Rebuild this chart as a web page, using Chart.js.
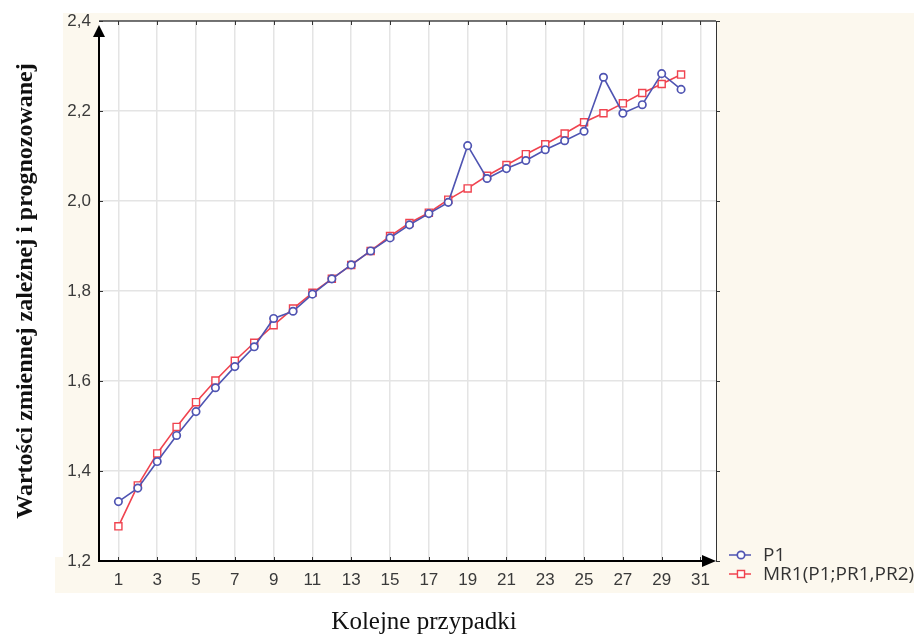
<!DOCTYPE html>
<html>
<head>
<meta charset="utf-8">
<script src="https://cdn.jsdelivr.net/npm/chart.js@4/dist/chart.umd.min.js"></script>
<style>
html,body{margin:0;padding:0;background:#ffffff;}
#wrap{width:914px;height:636px;}
</style>
</head>
<body>
<div id="wrap"><canvas id="c" width="914" height="636"></canvas></div>
<script>
// ---- data ----
const cases = [1,2,3,4,5,6,7,8,9,10,11,12,13,14,15,16,17,18,19,20,21,22,23,24,25,26,27,28,29,30];
const seriesP1 = [1.332,1.362,1.421,1.479,1.532,1.585,1.632,1.676,1.739,1.755,1.793,1.827,1.858,1.889,1.918,1.947,1.972,1.997,2.123,2.050,2.072,2.090,2.114,2.134,2.155,2.275,2.195,2.214,2.283,2.248];
const seriesMR1 = [1.277,1.368,1.439,1.498,1.553,1.601,1.645,1.685,1.724,1.761,1.796,1.827,1.858,1.889,1.922,1.951,1.974,2.003,2.028,2.056,2.080,2.104,2.126,2.150,2.175,2.195,2.217,2.240,2.260,2.281];
const xTickValues = [1,3,5,7,9,11,13,15,17,19,21,23,25,27,29,31];
const yTickValues = [1.2,1.4,1.6,1.8,2.0,2.2,2.4];
const seriesNames = ['P1','MR1(P1;PR1,PR2)'];
const xTitle = 'Kolejne przypadki';
const yTitle = 'Wartości zmiennej zależnej i prognozowanej';

const BLUE = '#4f54b2';
const RED = '#f0434f';
const CREAM = '#fcf8ee';

const decorPlugin = {
  id: 'decor',
  beforeDraw(chart) {
    const ctx = chart.ctx, a = chart.chartArea;
    ctx.save();
    ctx.fillStyle = '#ffffff';
    ctx.fillRect(0, 0, chart.width, chart.height);
    ctx.fillStyle = CREAM;
    ctx.fillRect(63, 13, chart.width - 63, 580);
    ctx.fillRect(55, a.bottom - 4, 10, 36);
    ctx.fillStyle = '#ffffff';
    ctx.fillRect(a.left, a.top, a.right - a.left, a.bottom - a.top);
    ctx.restore();
  },
  beforeDatasetsDraw(chart) {
    const ctx = chart.ctx, a = chart.chartArea;
    const xs = chart.scales.x, ys = chart.scales.y;
    ctx.save();
    ctx.strokeStyle = '#4a4a4a'; ctx.lineWidth = 1.5;
    ctx.beginPath(); ctx.moveTo(a.left, a.top); ctx.lineTo(a.right, a.top); ctx.stroke();
    ctx.strokeStyle = '#333'; ctx.lineWidth = 1;
    ctx.beginPath(); ctx.moveTo(a.right + 0.5, a.top); ctx.lineTo(a.right + 0.5, a.bottom); ctx.stroke();
    ctx.strokeStyle = '#333'; ctx.lineWidth = 1;
    xTickValues.forEach(v => {
      const px = Math.round(xs.getPixelForValue(v)) + 0.5;
      ctx.beginPath(); ctx.moveTo(px, a.top); ctx.lineTo(px, a.top + 4); ctx.stroke();
      ctx.beginPath(); ctx.moveTo(px, a.bottom); ctx.lineTo(px, a.bottom - 4); ctx.stroke();
    });
    yTickValues.forEach(v => {
      const py = Math.round(ys.getPixelForValue(v)) + 0.5;
      ctx.beginPath(); ctx.moveTo(a.left, py); ctx.lineTo(a.left + 4, py); ctx.stroke();
      ctx.beginPath(); ctx.moveTo(a.right, py); ctx.lineTo(a.right + 4, py); ctx.stroke();
    });
    ctx.strokeStyle = '#000'; ctx.fillStyle = '#000'; ctx.lineWidth = 2;
    ctx.beginPath(); ctx.moveTo(a.left, a.bottom + 1); ctx.lineTo(a.left, a.top + 8); ctx.stroke();
    ctx.beginPath(); ctx.moveTo(a.left, a.top + 4); ctx.lineTo(a.left - 6, a.top + 16); ctx.lineTo(a.left + 6, a.top + 16); ctx.closePath(); ctx.fill();
    ctx.beginPath(); ctx.moveTo(a.left - 1, a.bottom); ctx.lineTo(a.right - 8, a.bottom); ctx.stroke();
    ctx.beginPath(); ctx.moveTo(a.right, a.bottom); ctx.lineTo(a.right - 14, a.bottom - 6); ctx.lineTo(a.right - 14, a.bottom + 6); ctx.closePath(); ctx.fill();
    ctx.restore();
  },
  afterDraw(chart) {
    const ctx = chart.ctx, a = chart.chartArea;
    ctx.save();
    ctx.fillStyle = '#111';
    ctx.font = '25px "Liberation Serif"';
    ctx.textAlign = 'center'; ctx.textBaseline = 'middle';
    ctx.fillText(xTitle, 424, 622);
    ctx.translate(26, (a.top + a.bottom) / 2);
    ctx.rotate(-Math.PI / 2);
    ctx.font = 'bold 24px "Liberation Serif"';
    ctx.fillText(yTitle, 0, 0);
    ctx.restore();
    ctx.save();
    const rows = [555, 574];
    chart.data.datasets.forEach((ds, i) => {
      const y = rows[i];
      ctx.strokeStyle = ds.borderColor; ctx.lineWidth = 1.5;
      ctx.beginPath(); ctx.moveTo(729, y); ctx.lineTo(751, y); ctx.stroke();
      ctx.fillStyle = ds.pointBackgroundColor; ctx.strokeStyle = ds.borderColor; ctx.lineWidth = ds.pointBorderWidth;
      ctx.beginPath();
      if (ds.pointStyle === 'circle') ctx.arc(741, y, ds.pointRadius, 0, Math.PI * 2);
      else { const s = ds.pointRadius * Math.SQRT1_2; ctx.rect(741 - s, y - s, 2 * s, 2 * s); }
      ctx.fill(); ctx.stroke();
      ctx.fillStyle = '#333';
      ctx.font = '19px "Open Sans"';
      ctx.textAlign = 'left'; ctx.textBaseline = 'middle';
      ctx.fillText(ds.label, 763, y + 1);
    });
    ctx.restore();
  }
};

new Chart(document.getElementById('c'), {
  type: 'line',
  data: {
    datasets: [
      {
        label: seriesNames[0],
        data: cases.map((c, i) => ({x: c, y: seriesP1[i]})),
        borderColor: BLUE, borderWidth: 1.6,
        pointStyle: 'circle', pointRadius: 3.7, pointBorderWidth: 1.7,
        pointBackgroundColor: '#ffffff', pointBorderColor: BLUE,
        tension: 0, fill: false
      },
      {
        label: seriesNames[1],
        data: cases.map((c, i) => ({x: c, y: seriesMR1[i]})),
        borderColor: RED, borderWidth: 1.6,
        pointStyle: 'rect', pointRadius: 5, pointBorderWidth: 1.4,
        pointBackgroundColor: '#ffffff', pointBorderColor: RED,
        tension: 0, fill: false
      }
    ]
  },
  options: {
    responsive: false,
    animation: false,
    devicePixelRatio: 1,
    layout: { padding: { left: 0, top: 21, right: 198, bottom: 0 } },
    plugins: { legend: { display: false }, tooltip: { enabled: false } },
    scales: {
      x: {
        type: 'linear', min: 0, max: 31.8,
        afterBuildTicks: s => { s.ticks = xTickValues.map(v => ({value: v})); },
        afterFit: s => { s.height = 75; },
        grid: { color: '#e4e4e4', lineWidth: 1.5, drawTicks: false },
        border: { display: false },
        ticks: { padding: 9, color: '#3a3a3a', font: { family: '"Liberation Sans"', size: 17 }, callback: v => String(v), maxRotation: 0, autoSkip: false }
      },
      y: {
        type: 'linear', min: 1.2, max: 2.4,
        afterBuildTicks: s => { s.ticks = yTickValues.map(v => ({value: v})); },
        afterFit: s => { s.width = 99; },
        grid: { color: '#e4e4e4', lineWidth: 1.5, drawTicks: false },
        border: { display: false },
        ticks: { padding: 8, color: '#3a3a3a', font: { family: '"Liberation Sans"', size: 17 }, callback: v => v.toFixed(1).replace('.', ',') }
      }
    }
  },
  plugins: [decorPlugin]
});
</script>
</body>
</html>
